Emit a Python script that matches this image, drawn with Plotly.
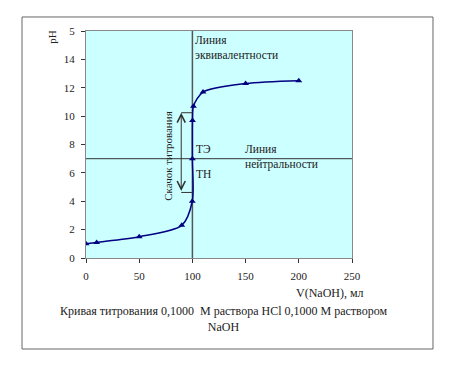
import plotly.graph_objects as go

# Data
volume_ml = [0, 10, 50, 90, 99.9, 100, 100.1, 101, 110, 150, 200]
ph_values = [1.0, 1.1, 1.5, 2.3, 4.0, 7.0, 9.7, 10.7, 11.7, 12.3, 12.5]
x_ticks = [0, 50, 100, 150, 200, 250]
y_ticks = [0, 2, 4, 6, 8, 10, 12, 14, 16]
y_tick_text = ["0", "2", "4", "6", "8", "10", "12", "14", "5"]
equivalence_volume = 100
neutral_ph = 7
jump_top_ph = 10.24
jump_bottom_ph = 4.62

FONT = "Liberation Serif"
TXT = "#222222"
NAVY = "#000080"

fig = go.Figure()

fig.add_trace(go.Scatter(
    x=volume_ml, y=ph_values, mode="lines+markers",
    line=dict(color=NAVY, width=1.5, shape="spline", smoothing=0.8),
    marker=dict(symbol="triangle-up", size=6, color=NAVY),
    showlegend=False, hoverinfo="skip"))

# reference lines
fig.add_shape(type="line", xref="x", yref="y", x0=equivalence_volume, x1=equivalence_volume,
              y0=0, y1=16, line=dict(color="#555555", width=1.5), layer="below")
fig.add_shape(type="line", xref="x", yref="y", x0=0, x1=250,
              y0=neutral_ph, y1=neutral_ph, line=dict(color="#333333", width=1), layer="below")

# jump markers (horizontal ticks)
ax_x = 89.5
for yv in (jump_top_ph, jump_bottom_ph):
    fig.add_shape(type="line", xref="x", yref="y", x0=ax_x, x1=equivalence_volume,
                  y0=yv, y1=yv, line=dict(color="#333333", width=1))
# double arrow
fig.add_annotation(x=ax_x, y=jump_top_ph, ax=ax_x, ay=jump_bottom_ph, xref="x", yref="y",
                   axref="x", ayref="y", text="", showarrow=True, arrowhead=5, arrowside="end+start",
                   arrowsize=1.6, arrowwidth=1, arrowcolor="#333333")

def ann(text, x, y, xanchor="left", size=11.5, **kw):
    fig.add_annotation(text=text, x=x, y=y, xref="x", yref="y", showarrow=False,
                       xanchor=xanchor, yanchor="middle",
                       font=dict(family=FONT, size=size, color=TXT), **kw)

ann("Линия", 100.8, 15.35)
ann("эквивалентности", 100.8, 14.3)
ann("ТЭ", 101.5, 7.68)
ann("ТН", 101.5, 5.9)
ann("Линия", 148, 7.68)
ann("нейтральности", 148, 6.62)
ann("Скачок титрования", 77, 7.2, xanchor="center", size=11, textangle=-90)

def pann(text, x, y, size, **kw):
    fig.add_annotation(text=text, x=x, y=y, xref="paper", yref="paper", showarrow=False,
                       xanchor="center", yanchor="middle",
                       font=dict(family=FONT, size=size, color=TXT), **kw)

# axis titles and caption
pann("pH", -0.128, 0.974, 11, textangle=-90)
pann("V(NaOH), мл", 0.917, -0.154, 12)
pann("Кривая титрования 0,1000  М раствора HCl 0,1000 М раствором<br>NaOH",
     0.516, -0.27, 12, align="center")

# outer frame
fig.add_shape(type="rect", xref="paper", yref="paper", x0=-0.2406, x1=1.3045,
              y0=-0.4009, y1=1.0617, line=dict(color="#666666", width=1))

fig.update_layout(
    width=468, height=367,
    margin=dict(l=78, r=124, t=23, b=117),
    paper_bgcolor="white", plot_bgcolor="#CCFFFF",
    xaxis=dict(range=[0, 250], tickvals=x_ticks, ticks="outside", ticklen=4,
               ticklabelstandoff=4,
               tickcolor="#333333", showgrid=False, zeroline=False,
               showline=True, linecolor="#888888", mirror=True,
               tickfont=dict(family=FONT, size=11, color=TXT)),
    yaxis=dict(range=[0, 16], tickvals=y_ticks, ticktext=y_tick_text, ticks="outside",
               ticklen=4, ticklabelstandoff=4, tickcolor="#333333", showgrid=False, zeroline=False,
               showline=True, linecolor="#888888", mirror=True,
               tickfont=dict(family=FONT, size=11, color=TXT)),
)

fig.write_html("out.html")
